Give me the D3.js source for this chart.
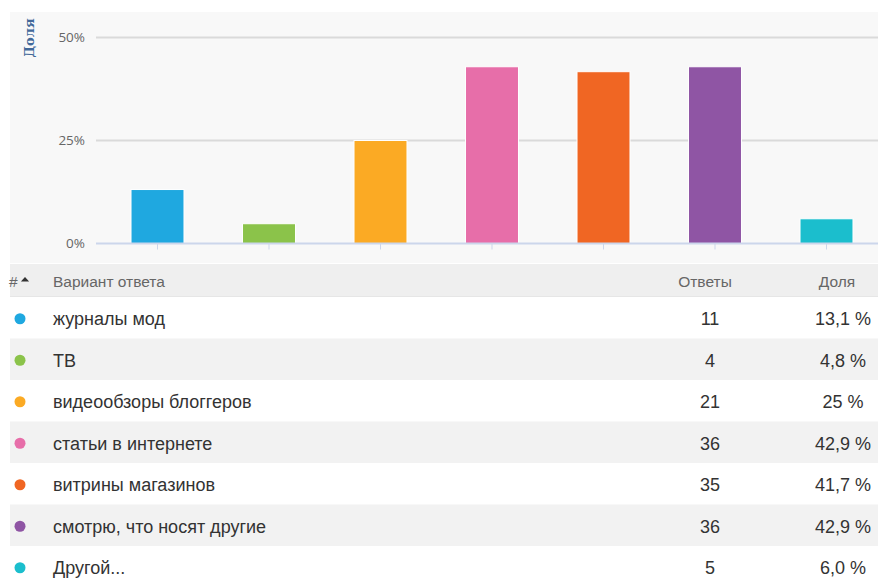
<!DOCTYPE html>
<html>
<head>
<meta charset="utf-8">
<script src="https://cdn.jsdelivr.net/npm/d3@7"></script>
<style>
  html, body { margin: 0; padding: 0; background: #ffffff; }
  svg { display: block; }
</style>
</head>
<body>
<div id="chart"></div>
<script>
// Survey answers: source of fashion ideas
const categories = [
  "журналы мод",
  "ТВ",
  "видеообзоры блоггеров",
  "статьи в интернете",
  "витрины магазинов",
  "смотрю, что носят другие",
  "Другой..."
];
const counts = [11, 4, 21, 36, 35, 36, 5];
const shares = [13.1, 4.8, 25, 42.9, 41.7, 42.9, 6.0];
const shareLabels = ["13,1 %", "4,8 %", "25 %", "42,9 %", "41,7 %", "42,9 %", "6,0 %"];
const colors = ["#1fa8e0", "#8bc34a", "#fbaa24", "#e76ea9", "#f06623", "#8f55a4", "#1bbecd"];
const yTicks = [0, 25, 50];
const yTickLabels = ["0%", "25%", "50%"];
const headers = ["#", "Вариант ответа", "Ответы", "Доля"];

const W = 878, H = 587;
const svg = d3.select("#chart").append("svg")
  .attr("width", W).attr("height", H);

// ---- chart panel ----
const panel = { x0: 10, x1: 878, y0: 12, y1: 263 };
svg.append("rect")
  .attr("x", panel.x0).attr("y", panel.y0)
  .attr("width", panel.x1 - panel.x0).attr("height", panel.y1 - panel.y0)
  .attr("fill", "#f8f8f8");

const y = d3.scaleLinear().domain([0, 50]).range([243.5, 37.5]);
const x = d3.scaleBand()
  .domain(categories)
  .range([101.75, 882.25])
  .paddingInner(0.525)
  .paddingOuter(0.2625);

const gridX0 = 96, gridX1 = 878;

// horizontal grid lines
svg.append("g").selectAll("line")
  .data(yTicks.filter(t => t > 0))
  .join("line")
  .attr("x1", gridX0).attr("x2", gridX1)
  .attr("y1", d => y(d)).attr("y2", d => y(d))
  .attr("stroke", "#dadada").attr("stroke-width", 2);

// y tick labels
svg.append("g").selectAll("text")
  .data(yTicks)
  .join("text")
  .attr("x", 85).attr("y", d => y(d))
  .attr("dy", "0.35em")
  .attr("text-anchor", "end")
  .attr("font-family", "'Open Sans', 'DejaVu Sans', sans-serif")
  .attr("font-size", 13.5)
  .attr("fill", "#666666")
  .text((d, i) => yTickLabels[i]);

// y axis title
svg.append("text")
  .attr("transform", `translate(34,38) rotate(-90)`)
  .attr("text-anchor", "middle")
  .attr("font-family", "'DejaVu Serif', 'Liberation Serif', serif")
  .attr("font-weight", "bold")
  .attr("font-size", 13)
  .attr("fill", "#42699a")
  .text("Доля");

// bars
svg.append("g").selectAll("rect")
  .data(categories)
  .join("rect")
  .attr("x", d => x(d))
  .attr("y", (d, i) => y(shares[i]))
  .attr("width", x.bandwidth())
  .attr("height", (d, i) => y(0) - y(shares[i]))
  .attr("fill", (d, i) => colors[i])
  .attr("stroke", "#ffffff")
  .attr("stroke-width", 1);

// x axis baseline and ticks
const xAxis = d3.axisBottom(x).tickSize(6).tickFormat("");
const gx = svg.append("g")
  .attr("transform", `translate(0,${y(0)})`)
  .call(xAxis);
gx.select(".domain").remove();
gx.selectAll(".tick line").attr("stroke", "#ccd6eb");
svg.append("line")
  .attr("x1", gridX0).attr("x2", gridX1)
  .attr("y1", y(0)).attr("y2", y(0))
  .attr("stroke", "#ccd6eb").attr("stroke-width", 2);

// ---- table ----
const tableX0 = 10, tableX1 = 878;
const headerTop = 264, headerBottom = 297;
const rowH = 41.5;
const colX = { dot: 20, label: 53, count: 710, share: 843 };
const fontTable = "'Liberation Sans', Arial, sans-serif";
const rowFont = 18;

svg.append("rect")
  .attr("x", tableX0).attr("y", headerTop)
  .attr("width", tableX1 - tableX0).attr("height", headerBottom - headerTop)
  .attr("fill", "#efefef");
svg.append("line")
  .attr("x1", tableX0).attr("x2", tableX1)
  .attr("y1", headerBottom).attr("y2", headerBottom)
  .attr("stroke", "#dddddd").attr("stroke-width", 1);

const headY = (headerTop + headerBottom) / 2 + 1;
const headG = svg.append("g")
  .attr("font-family", fontTable)
  .attr("font-size", 15.5)
  .attr("fill", "#666666");
headG.append("text").attr("x", 9).attr("y", headY).attr("dy", "0.35em").text(headers[0]);
headG.append("path")
  .attr("d", d3.symbol(d3.symbolTriangle, 24)())
  .attr("transform", `translate(25,${headY - 1.5}) scale(1.1,0.7)`)
  .attr("fill", "#333333");
headG.append("text").attr("x", colX.label).attr("y", headY).attr("dy", "0.35em").text(headers[1]);
headG.append("text").attr("x", 705).attr("y", headY).attr("dy", "0.35em")
  .attr("text-anchor", "middle").text(headers[2]);
headG.append("text").attr("x", 837).attr("y", headY).attr("dy", "0.35em")
  .attr("text-anchor", "middle").text(headers[3]);

const rows = svg.append("g").selectAll("g")
  .data(categories)
  .join("g")
  .attr("transform", (d, i) => `translate(0,${headerBottom + i * rowH})`);

rows.append("rect")
  .attr("x", tableX0).attr("y", 0)
  .attr("width", tableX1 - tableX0).attr("height", rowH)
  .attr("fill", (d, i) => i % 2 === 1 ? "#f2f2f2" : "#ffffff");

rows.append("circle")
  .attr("cx", colX.dot).attr("cy", rowH / 2 + 1)
  .attr("r", 5.5)
  .attr("fill", (d, i) => colors[i]);

rows.append("text")
  .attr("x", colX.label).attr("y", rowH / 2 + 1).attr("dy", "0.35em")
  .attr("font-family", fontTable).attr("font-size", rowFont).attr("fill", "#333333")
  .text(d => d);

rows.append("text")
  .attr("x", colX.count).attr("y", rowH / 2 + 1).attr("dy", "0.35em")
  .attr("text-anchor", "middle")
  .attr("font-family", fontTable).attr("font-size", rowFont).attr("fill", "#333333")
  .text((d, i) => counts[i]);

rows.append("text")
  .attr("x", colX.share).attr("y", rowH / 2 + 1).attr("dy", "0.35em")
  .attr("text-anchor", "middle")
  .attr("font-family", fontTable).attr("font-size", rowFont).attr("fill", "#333333")
  .text((d, i) => shareLabels[i]);
</script>
</body>
</html>
